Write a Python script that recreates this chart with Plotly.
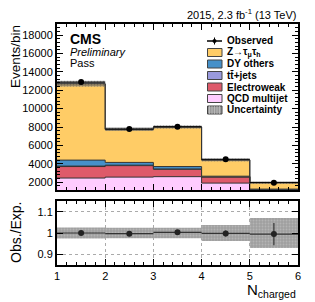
import plotly.graph_objects as go
from plotly.subplots import make_subplots

# ---- data ----
edges = [1, 2, 3, 4, 5, 6]
centers = [1.5, 2.5, 3.5, 4.5, 5.5]
qcd = [2450, 2550, 2600, 1900, 800]
ewk = [1250, 1250, 800, 650, 350]
ttbar = [50, 50, 40, 30, 20]
dy_others = [650, 300, 260, 70, 80]
ztt = [8300, 3600, 4300, 1770, 700]
observed = [12880, 7780, 8030, 4490, 1950]
observed_err = [115, 90, 90, 70, 45]
ratio = [1.0, 0.997, 1.003, 0.998, 0.995]
ratio_err = [0.004, 0.006, 0.006, 0.014, 0.052]
rel_unc = [0.026, 0.025, 0.025, 0.037, 0.07]

names = ["QCD multijet", "Electroweak", "tt\u0304+jets", "DY others", "Z\u2192\u03c4<sub>\u03bc</sub>\u03c4<sub>h</sub>"]
colors = ["#FFCCFF", "#DE5A6A", "#9999DD", "#4590C9", "#FFCC66"]
comps = [qcd, ewk, ttbar, dy_others, ztt]

FONT = "Liberation Sans, Arial, sans-serif"

fig = make_subplots(rows=2, cols=1, shared_xaxes=True, vertical_spacing=0.0,
                    row_heights=[0.72, 0.28])

def step(vals):
    return list(vals) + [vals[-1]]

cum = [0.0] * 5
for i, (comp, col) in enumerate(zip(comps, colors)):
    cum = [c + v for c, v in zip(cum, comp)]
    fig.add_trace(go.Scatter(x=edges, y=step(cum), mode="lines", line=dict(shape="hv", color="#333333", width=1),
                             fill="tozeroy" if i == 0 else "tonexty", fillcolor=col, showlegend=False,
                             hoverinfo="skip"), row=1, col=1)
total = cum

lo = [t * (1 - r) for t, r in zip(total, rel_unc)]
hi = [t * (1 + r) for t, r in zip(total, rel_unc)]
fig.add_trace(go.Scatter(x=edges, y=step(lo), mode="lines", line=dict(shape="hv", width=0, color="rgba(0,0,0,0)"),
                         showlegend=False, hoverinfo="skip"), row=1, col=1)
fig.add_trace(go.Scatter(x=edges, y=step(hi), mode="lines", line=dict(shape="hv", width=0, color="rgba(0,0,0,0)"),
                         fill="tonexty", fillcolor="rgba(110,110,110,0.55)",
                         fillpattern=dict(shape="+", size=3, solidity=0.4, fgcolor="#444444",
                                          bgcolor="rgba(140,140,140,0.5)"),
                         showlegend=False, hoverinfo="skip"), row=1, col=1)
fig.add_trace(go.Scatter(x=edges, y=step(total), mode="lines", line=dict(shape="hv", color="#333333", width=1),
                         showlegend=False, hoverinfo="skip"), row=1, col=1)

fig.add_trace(go.Scatter(x=centers, y=observed, mode="markers", marker=dict(color="black", size=6),
                         error_x=dict(type="constant", value=0.5, width=0, thickness=1, color="black"),
                         error_y=dict(type="data", array=observed_err, width=0, thickness=1, color="black"),
                         showlegend=False), row=1, col=1)

# ratio panel
rlo = [1 - r for r in rel_unc]
rhi = [1 + r for r in rel_unc]
fig.add_trace(go.Scatter(x=edges, y=step(rlo), mode="lines", line=dict(shape="hv", width=0, color="rgba(0,0,0,0)"),
                         showlegend=False, hoverinfo="skip"), row=2, col=1)
fig.add_trace(go.Scatter(x=edges, y=step(rhi), mode="lines", line=dict(shape="hv", width=0, color="rgba(0,0,0,0)"),
                         fill="tonexty", fillcolor="rgba(150,150,150,0.8)",
                         fillpattern=dict(shape=".", size=3, solidity=0.3, fgcolor="#c8c8c8",
                                          bgcolor="#a0a0a0"),
                         showlegend=False, hoverinfo="skip"), row=2, col=1)
fig.add_trace(go.Scatter(x=centers, y=ratio, mode="markers", marker=dict(color="#222222", size=6),
                         error_x=dict(type="constant", value=0.5, width=0, thickness=1.2, color="#333333"),
                         error_y=dict(type="data", array=ratio_err, width=0, thickness=1.2, color="#333333"),
                         showlegend=False), row=2, col=1)

axis_common = dict(showline=True, linecolor="black", linewidth=2, mirror="ticks", ticks="inside",
                   tickcolor="black", tickwidth=1, zeroline=False,
                   tickfont=dict(family=FONT, size=11, color="black"))

fig.update_xaxes(range=[1, 6], dtick=1, ticklen=6, showgrid=False,
                 minor=dict(ticks="inside", dtick=0.2, ticklen=3, tickcolor="black", showgrid=False),
                 **axis_common)
fig.update_xaxes(showticklabels=False, row=1, col=1)
fig.update_xaxes(showgrid=True, gridcolor="#aaaaaa", griddash="dot", gridwidth=1, row=2, col=1)
fig.update_yaxes(range=[1150, 19200], dtick=2000, tickformat="d", ticklen=6, showgrid=False,
                 minor=dict(ticks="inside", dtick=400, ticklen=3, tickcolor="black"),
                 row=1, col=1, **axis_common)
fig.update_yaxes(range=[0.85, 1.15], tickvals=[0.9, 1.0, 1.1], ticktext=["0.9", "1", "1.1"], ticklen=6,
                 showgrid=True, gridcolor="#aaaaaa", griddash="dot", gridwidth=1,
                 row=2, col=1, **axis_common)

# page has an 8px body margin: lay the figure out so that it lands where the reference has it
OFF = 8
PW, PH = 241, 241
L, T = 57 - OFF, 24 - OFF
W, H = 315 - OFF, 302 - OFF
R = W - L - PW
B = H - T - PH
fig.update_layout(width=W, height=H, margin=dict(l=L, r=R, t=T, b=B, pad=0),
                  paper_bgcolor="white", plot_bgcolor="white", showlegend=False,
                  font=dict(family=FONT, color="black"))
fig.layout.yaxis.domain = [(265 - 190) / PH, 1.0]
fig.layout.yaxis2.domain = [0.0, (265 - 201) / PH]

def px(x):  # page pixel -> paper
    return (x - 57) / PW

def py(y):
    return (265 - y) / PH

ann = []
ann.append(dict(text="2015, 2.3 fb<sup>-1</sup> (13 TeV)", x=1.0, y=py(14.5), xanchor="right", yanchor="middle",
                font=dict(size=11)))
ann.append(dict(text="<b>CMS</b>", x=px(68), y=py(38.5), xanchor="left", yanchor="middle", font=dict(size=14)))
ann.append(dict(text="<i>Preliminary</i>", x=px(68), y=py(51.5), xanchor="left", yanchor="middle", font=dict(size=11)))
ann.append(dict(text="Pass", x=px(68), y=py(63), xanchor="left", yanchor="middle", font=dict(size=11)))
ann.append(dict(text="Events/bin", x=px(16), y=py(57), xanchor="center", yanchor="middle", textangle=-90,
                font=dict(size=13.5)))
ann.append(dict(text="Obs./Exp.", x=px(16), y=py(233), xanchor="center", yanchor="middle", textangle=-90,
                font=dict(size=14)))
ann.append(dict(text="N<sub>charged</sub>", x=1.0, y=py(279), xanchor="right", yanchor="top",
                font=dict(size=15)))

# legend (manual, compact like the ROOT legend)
leg_names = ["Observed"] + names[::-1] + ["Uncertainty"]
leg_y = [41, 52.5, 64, 75.5, 87, 98.5, 110]
shapes = []
for i, (nm, yy) in enumerate(zip(leg_names, leg_y)):
    ann.append(dict(text="<b>" + nm + "</b>", x=px(225), y=py(yy), xanchor="left", yanchor="middle",
                    font=dict(size=10)))
    if i == 0:
        shapes.append(dict(type="line", xref="paper", yref="paper", x0=px(207), x1=px(222), y0=py(yy), y1=py(yy),
                           line=dict(color="black", width=1.5)))
        shapes.append(dict(type="line", xref="paper", yref="paper", x0=px(214.5), x1=px(214.5),
                           y0=py(yy - 3.5), y1=py(yy + 3.5), line=dict(color="black", width=1)))
        shapes.append(dict(type="circle", xref="paper", yref="paper", x0=px(212.5), x1=px(216.5),
                           y0=py(yy + 2), y1=py(yy - 2), fillcolor="black", line=dict(color="black", width=0)))
    else:
        fc = colors[::-1][i - 1] if i <= 5 else "#9a9a9a"
        shapes.append(dict(type="rect", xref="paper", yref="paper", x0=px(207.5), x1=px(222),
                           y0=py(yy + 4), y1=py(yy - 4), fillcolor=fc, line=dict(color="#444444", width=1)))
        if i == 6:
            for k in range(5):
                xx = 209.5 + k * 2.5
                shapes.append(dict(type="line", xref="paper", yref="paper", x0=px(xx), x1=px(xx),
                                   y0=py(yy + 4), y1=py(yy - 4), line=dict(color="#cfcfcf", width=0.6)))

for a in ann:
    a.update(xref="paper", yref="paper", showarrow=False)
    a["font"].update(family=FONT, color="black")
fig.update_layout(annotations=ann, shapes=shapes)

fig.write_html("out.html")
